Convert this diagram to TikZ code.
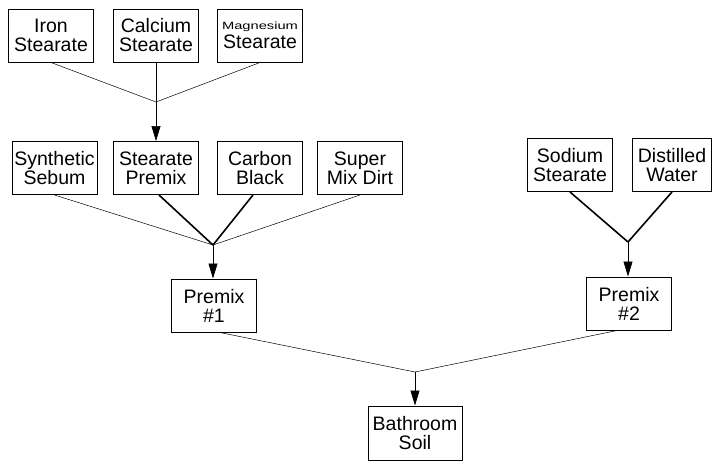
\documentclass[tikz,border=0pt]{standalone}
\usepackage{fontspec}
\setmainfont{Liberation Sans}
\usetikzlibrary{arrows.meta}
\begin{document}
\begin{tikzpicture}[x=1pt, y=-1pt,
    box/.style={draw, line width=1pt, minimum width=85pt, minimum height=53pt,
      inner sep=0pt, align=center, font=\fontsize{19.5}{19}\selectfont},
    feed/.style={line width=0.5pt},
    mainfeed/.style={line width=1.6pt},
    flow/.style={line width=0.7pt, -{Triangle[length=15pt,width=9pt]}}]
    \useasboundingbox (0,0) rectangle (712,461);
    \node[box] (iron) at (51,35.5) {Iron\\Stearate};
    \node[box] (calcium) at (156,35.5) {Calcium\\Stearate};
    \node[box] (magnesium) at (260,35.5) {\scalebox{1.4}[1]{\fontsize{10.5}{11}\selectfont Magnesium}\\Stearate};
    \node[box] (sebum) at (54.5,168) {Synthetic\\Sebum};
    \node[box] (stpremix) at (156,168) {Stearate\\Premix};
    \node[box] (carbon) at (260,168) {Carbon\\Black};
    \node[box] (dirt) at (360,168) {Super\\Mix Dirt};
    \node[box] (sodium) at (570,165) {Sodium\\Stearate};
    \node[box, minimum width=79pt] (water) at (672,165) {Distilled\\Water};
    \node[box] (premixa) at (214,305.5) {Premix\\\#1};
    \node[box] (premixb) at (629,303.5) {Premix\\\#2};
    \node[box, minimum width=94pt, minimum height=54pt] (soil) at (415,433) {Bathroom\\Soil};
    \coordinate (ja) at (156,102);
    \coordinate (jb) at (213,245);
    \coordinate (jc) at (628,242);
    \coordinate (jd) at (415,372);
    \draw[feed] (iron.south) -- (ja);
    \draw[feed] (calcium.south) -- (ja);
    \draw[feed] (magnesium.south) -- (ja);
    \draw[flow] (ja) -- (stpremix.north);
    \draw[feed] (sebum.south) -- (jb);
    \draw[mainfeed] ([xshift=3pt]stpremix.south) -- (jb);
    \draw[mainfeed] ([xshift=-7pt]carbon.south) -- (jb);
    \draw[feed] (dirt.south) -- (jb);
    \draw[flow] (jb) -- (jb |- premixa.north);
    \draw[mainfeed] (sodium.south) -- (jc);
    \draw[mainfeed] (water.south) -- (jc);
    \draw[flow] (jc) -- (jc |- premixb.north);
    \draw[feed] ([xshift=6pt]premixa.south) -- (jd);
    \draw[feed] ([xshift=-12pt]premixb.south) -- (jd);
    \draw[flow] (jd) -- (soil.north);
\end{tikzpicture}
\end{document}
